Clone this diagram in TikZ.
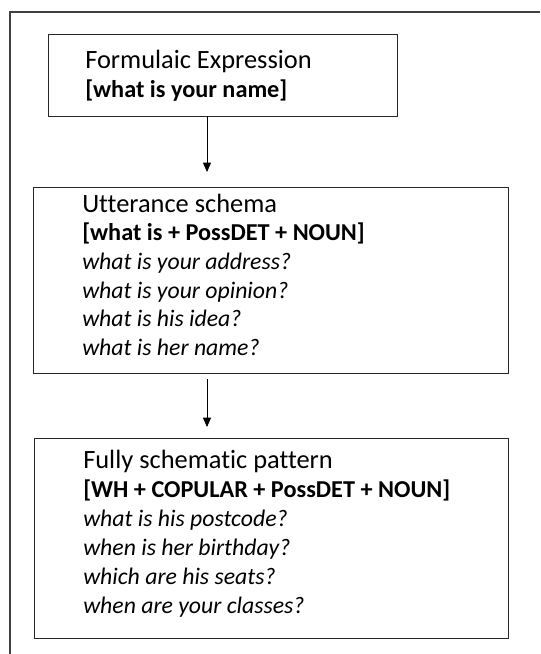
\documentclass[tikz,border=0pt]{standalone}
\usepackage{fontspec}
\setmainfont{Carlito}[Ligatures=NoCommon]
\usetikzlibrary{arrows.meta}

\begin{document}
\begin{tikzpicture}[x=0.75pt,y=-0.75pt,
  stagebox/.style={draw=black!85,line width=0.9pt,anchor=north west,inner sep=0pt},
  heading/.style={anchor=base west,inner sep=0pt,font=\fontsize{19.8}{24}\selectfont},
  pattern/.style={heading,font=\fontsize{18.2}{22}\selectfont\bfseries},
  example/.style={heading,font=\fontsize{17.8}{22}\selectfont\itshape},
  flow/.style={-{Triangle[width=6pt,length=7pt]},line width=0.6pt}]
\useasboundingbox (0,0) rectangle (540,654);
% frame
\draw[black!75,line width=0.9pt] (10,654) |- (540,12);
% boxes
\node[stagebox,minimum width=261.75pt,minimum height=61.5pt] (formula) at (48,34) {};
\node[stagebox,minimum width=356.25pt,minimum height=139.5pt] (schema) at (33,187) {};
\node[stagebox,minimum width=355.5pt,minimum height=150pt] (pattern) at (34,438) {};
% formulaic expression
\node[heading] (fe-head) at (85,68) {Formulaic Expression};
\node[pattern] (fe-pat) at ([yshift=-21.75pt]fe-head.base west) {[what is your name]};
% utterance schema
\node[heading] (us-head) at (82,212) {Utterance schema};
\node[pattern] (us-pat) at ([yshift=-21.5pt]us-head.base west) {[what is + PossDET + NOUN]};
\foreach \txt [count=\i] in {what is your address?,what is your opinion?,
    what is his idea?,what is her name?}
  \node[example] (us-ex\i) at ([yshift={-\i*21.5pt}]us-pat.base west) {\txt};
% fully schematic pattern
\node[heading] (fs-head) at (83,468) {Fully schematic pattern};
\node[pattern] (fs-pat) at ([yshift=-21.75pt]fs-head.base west) {[WH + COPULAR + PossDET + NOUN]};
\foreach \txt [count=\i] in {what is his postcode?,when is her birthday?,
    which are his seats?,when are your classes?}
  \node[example] (fs-ex\i) at ([yshift={-\i*21.75pt}]fs-pat.base west) {\txt};
% arrows
\coordinate (a1) at (207,116);
\coordinate (b1) at (207,172);
\coordinate (a2) at (207,379);
\coordinate (b2) at (207,427);
\draw[flow] (a1) -- (b1);
\draw[flow] (a2) -- (b2);
\end{tikzpicture}
\end{document}
